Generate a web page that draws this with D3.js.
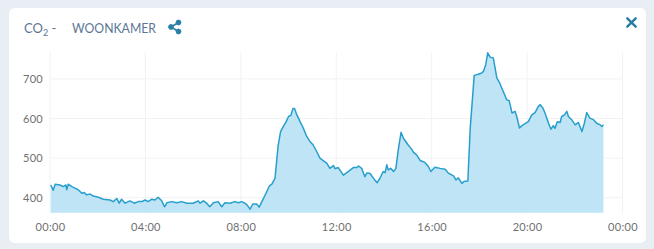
<!DOCTYPE html>
<html>
<head>
<meta charset="utf-8">
<script src="https://cdn.jsdelivr.net/npm/d3@7"></script>
<style>
  html, body { margin: 0; padding: 0; background: #e9eef5; }
  body { width: 654px; height: 249px; overflow: hidden; font-family: Lato, "Open Sans", sans-serif; }
</style>
</head>
<body>
<div id="chart"></div>
<script>
// CO2 woonkamer - one day of measurements
var times = ["00:02","00:08","00:13","00:25","00:33","00:40","00:42","00:46","00:55","01:03","01:11","01:20","01:26","01:32","01:41","01:49",
  "02:02","02:14","02:31","02:39","02:48","02:54","03:00","03:09","03:21","03:32","03:42","03:51","03:59","04:07","04:16","04:24",
  "04:32","04:41","04:48","04:54","05:06","05:19","05:31","05:44","06:00","06:13","06:17","06:26","06:34","06:42","06:51","07:03",
  "07:12","07:20","07:33","07:45","07:54","08:02","08:10","08:16","08:23","08:30","08:40","08:46","08:57","09:05","09:12","09:18",
  "09:26","09:30","09:34","09:40","09:47","09:54","10:00","10:06","10:11","10:15","10:21","10:29","10:37","10:46","10:54","11:02",
  "11:11","11:19","11:28","11:36","11:44","11:53","11:57","12:05","12:18","12:30","12:43","12:52","12:56","13:04","13:12","13:17",
  "13:25","13:38","13:43","13:50","13:58","14:03","14:07","14:11","14:17","14:24","14:30","14:36","14:43","14:49","15:01","15:10",
  "15:14","15:22","15:31","15:43","15:52","15:58","16:08","16:21","16:34","16:42","16:55","17:01","17:07","17:16","17:21","17:31",
  "17:37","17:47","17:57","18:06","18:10","18:16","18:21","18:27","18:35","18:44","18:50","19:00","19:09","19:15","19:22","19:30",
  "19:34","19:41","19:47","19:55","20:03","20:12","20:20","20:28","20:33","20:40","20:45","20:54","21:00","21:06","21:10","21:16",
  "21:23","21:27","21:34","21:40","21:44","21:52","22:01","22:09","22:18","22:24","22:30","22:38","22:47","22:55","23:04","23:08","23:12"];
var co2 = [432,419,434,432,428,432,420,434,428,424,420,411,413,407,409,404,
  401,396,394,390,398,386,396,386,392,386,390,390,394,390,396,394,
  401,392,377,387,390,387,390,386,386,392,386,392,386,377,387,390,
  377,387,386,390,387,390,386,381,371,384,384,376,398,415,430,434,
  449,491,533,567,580,592,605,608,625,625,609,592,576,554,542,533,
  516,500,493,487,474,481,473,476,457,466,476,476,480,474,453,462,
  461,443,438,449,466,463,483,470,474,466,474,521,565,550,533,522,
  515,508,494,489,478,466,477,474,472,462,455,445,450,436,441,442,
  576,709,712,715,719,736,766,755,753,702,692,668,647,645,614,618,
  605,576,582,587,592,609,615,630,635,626,614,588,573,582,575,592,
  590,605,609,618,605,597,584,590,567,588,615,601,597,588,584,580,584];
var yTicks = [400, 500, 600, 700];

var W = 654, H = 249;
var parse = d3.timeParse("%Y-%m-%d %H:%M");
var data = times.map(function(t, i) { return { t: parse("2020-01-01 " + t), v: co2[i] }; });

var svg = d3.select("#chart").append("svg")
  .attr("width", W)
  .attr("height", H);

// card
svg.append("rect")
  .attr("x", 9).attr("y", 8)
  .attr("width", 637).attr("height", 235)
  .attr("rx", 6)
  .attr("fill", "#ffffff");

var x = d3.scaleTime()
  .domain([parse("2020-01-01 00:00"), parse("2020-01-02 00:00")])
  .range([50, 622.5]);
var y = d3.scaleLinear()
  .domain([362, 768])
  .range([212.7, 52]);

// grid
svg.append("g").selectAll("line").data(yTicks)
  .enter().append("line")
  .attr("x1", 50).attr("x2", 622.5)
  .attr("y1", function(d) { return y(d); })
  .attr("y2", function(d) { return y(d); })
  .attr("stroke", "#f0f2f4")
  .attr("stroke-width", 1);
svg.append("g").selectAll("line").data(x.ticks(d3.timeHour.every(4)))
  .enter().append("line")
  .attr("x1", function(d) { return x(d); })
  .attr("x2", function(d) { return x(d); })
  .attr("y1", 52).attr("y2", 212.7)
  .attr("stroke", "#f0f2f4")
  .attr("stroke-width", 1);

var area = d3.area()
  .x(function(d) { return x(d.t); })
  .y0(y(362))
  .y1(function(d) { return y(d.v); });
var line = d3.line()
  .x(function(d) { return x(d.t); })
  .y(function(d) { return y(d.v); });

svg.append("path").datum(data)
  .attr("d", area)
  .attr("fill", "#bfe4f6");
svg.append("path").datum(data)
  .attr("d", line)
  .attr("fill", "none")
  .attr("stroke", "#279fcc")
  .attr("stroke-width", 1.5)
  .attr("stroke-linejoin", "round");

// axes
var xAxis = d3.axisBottom(x)
  .ticks(d3.timeHour.every(4))
  .tickFormat(d3.timeFormat("%H:%M"))
  .tickSize(0)
  .tickPadding(10);
var gx = svg.append("g")
  .attr("transform", "translate(0,213)")
  .call(xAxis);
gx.select(".domain").remove();
gx.selectAll("text")
  .attr("fill", "#707070")
  .style("font-family", "Lato, sans-serif")
  .style("font-size", "11px")
  .style("letter-spacing", "0.3px");

var yAxis = d3.axisLeft(y)
  .tickValues(yTicks)
  .tickSize(0)
  .tickPadding(7);
var gy = svg.append("g")
  .attr("transform", "translate(50,0)")
  .call(yAxis);
gy.select(".domain").remove();
gy.selectAll("text")
  .attr("fill", "#707070")
  .style("font-family", "Lato, sans-serif")
  .style("font-size", "11px")
  .style("letter-spacing", "0.3px");

// title
var title = svg.append("text")
  .attr("x", 24).attr("y", 33)
  .attr("fill", "#5b7794")
  .style("font-family", "Lato, sans-serif")
  .style("font-size", "13px");
title.append("tspan").text("CO");
title.append("tspan").attr("dy", 3).style("font-size", "9px").text("2");
title.append("tspan").attr("dy", -3).text(" -");
svg.append("text")
  .attr("x", 72).attr("y", 33)
  .attr("fill", "#5b7794")
  .attr("textLength", 84)
  .attr("lengthAdjust", "spacingAndGlyphs")
  .style("font-family", "Lato, sans-serif")
  .style("font-size", "13px")
  .text("WOONKAMER");

// share icon
var share = svg.append("g").attr("transform", "translate(175,27)").attr("fill", "#2b80a8").attr("stroke", "#2b80a8");
share.append("line").attr("x1", -4).attr("y1", 0).attr("x2", 3.5).attr("y2", -4.5).attr("stroke-width", 1.6);
share.append("line").attr("x1", -4).attr("y1", 0).attr("x2", 3.5).attr("y2", 4.5).attr("stroke-width", 1.6);
share.append("circle").attr("cx", -4).attr("cy", 0).attr("r", 2.4);
share.append("circle").attr("cx", 3.5).attr("cy", -4.5).attr("r", 2.4);
share.append("circle").attr("cx", 3.5).attr("cy", 4.5).attr("r", 2.4);

// close
var close = svg.append("g").attr("transform", "translate(631.5,22.5)")
  .attr("stroke", "#2b7ca2").attr("stroke-width", 2.4).attr("stroke-linecap", "round");
close.append("line").attr("x1", -4.2).attr("y1", -4.2).attr("x2", 4.2).attr("y2", 4.2);
close.append("line").attr("x1", -4.2).attr("y1", 4.2).attr("x2", 4.2).attr("y2", -4.2);
</script>
</body>
</html>
